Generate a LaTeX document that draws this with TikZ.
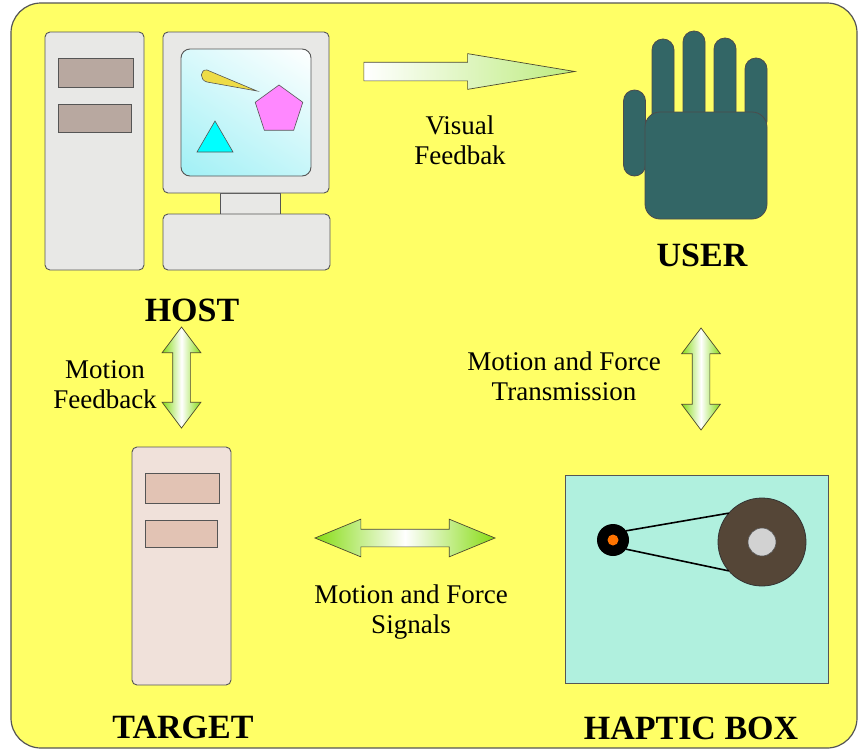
\documentclass[tikz,border=0pt]{standalone}
\usepackage{fontspec}
\setmainfont{Liberation Serif}
\usetikzlibrary{positioning, shapes.geometric, shapes.arrows, shadings}

\definecolor{panelyellow}{RGB}{255,255,102}
\definecolor{edgegray}{RGB}{85,85,85}
\definecolor{casegray}{RGB}{232,232,230}
\definecolor{baygray}{RGB}{184,168,160}
\definecolor{casepink}{RGB}{240,225,218}
\definecolor{baypink}{RGB}{226,195,180}
\definecolor{screencyan}{RGB}{160,240,245}
\definecolor{shapecyan}{RGB}{0,255,255}
\definecolor{pentapink}{RGB}{255,136,255}
\definecolor{pointeryellow}{RGB}{238,220,70}
\definecolor{handteal}{RGB}{51,102,102}
\definecolor{hapticmint}{RGB}{176,240,222}
\definecolor{pulleybrown}{RGB}{85,70,55}
\definecolor{hubgray}{RGB}{210,210,210}
\definecolor{arrowgreen}{RGB}{135,220,20}

\begin{document}
\begin{tikzpicture}[x=1pt, y=-1pt,
      casebox/.style={draw=edgegray, line width=0.9pt, rounded corners=5pt, inner sep=0pt, outer sep=0pt},
      bay/.style={draw=edgegray, line width=0.9pt, inner sep=0pt},
      finger/.style={draw=black!70, fill=handteal, line width=0.8pt, rounded corners=11pt, inner sep=0pt, minimum width=22pt},
      flow/.style={double arrow, draw=black!60!olive, line width=0.7pt, inner xsep=0pt, inner ysep=8.5pt,
        double arrow head extend=10.5pt, double arrow tip angle=74,
        left color=arrowgreen, right color=arrowgreen, middle color=white},
      title/.style={font=\fontsize{34}{40}\selectfont\bfseries},
      flowtext/.style={font=\fontsize{27}{30}\selectfont, align=center}
    ]
    \useasboundingbox (0,0) rectangle (859,750);
    \filldraw[fill=panelyellow, draw=edgegray, line width=1.2pt, rounded corners=30pt] (11,3) rectangle (857,748);

    % host computer
    \node[casebox, fill=casegray, minimum width=99pt, minimum height=238pt] (hosttower) at (94.5,151) {};
    \node[bay, fill=baygray, minimum width=75pt, minimum height=29pt] (hostbay1) at (95.5,72.5) {};
    \node[bay, fill=baygray, minimum width=73pt, minimum height=28pt] (hostbay2) at (94.5,118) {};
    \node[casebox, fill=casegray, minimum width=60pt, minimum height=22pt, rounded corners=0pt] (stand) at (250,204) {};
    \node[casebox, fill=casegray, minimum width=166pt, minimum height=161pt] (monitor) at (246,112.5) {};
    \node[casebox, rounded corners=9pt, minimum width=130pt, minimum height=127pt,
      upper left=screencyan!40, upper right=white, lower left=screencyan, lower right=screencyan!60] (screen) at (246,112.5) {};
    \node[casebox, fill=casegray, minimum width=167pt, minimum height=56pt] (keyboard) at (246.5,242) {};
    \filldraw[fill=pointeryellow, draw=edgegray, line width=0.6pt]
      (257,91) -- (207,70) .. controls (200,69) and (199,80) .. (207,82) -- cycle;
    \node[regular polygon, regular polygon sides=5, minimum size=50pt, inner sep=0pt,
      fill=pentapink, draw=edgegray, line width=0.6pt] (pentagon) at (279,110) {};
    \filldraw[fill=shapecyan, draw=edgegray, line width=0.6pt] (215,121) -- (233,152) -- (197,152) -- cycle;
    \node[title] (host) at (192,310) {HOST};

    % user hand
    \node[finger, minimum height=86pt] (thumb) at (634.5,133) {};
    \node[finger, minimum height=101pt] (index) at (663,89.5) {};
    \node[finger, minimum height=109pt] (middle) at (694,85.5) {};
    \node[finger, minimum height=102pt] (ring) at (725,89) {};
    \node[finger, minimum height=74pt] (pinky) at (756,95) {};
    \node[draw=black!70, fill=handteal, line width=0.8pt, rounded corners=15pt, inner sep=0pt,
      minimum width=122pt, minimum height=107pt] (palm) at (706,165.5) {};
    \node[title] (user) at (702,255) {USER};

    % target computer
    \node[casebox, fill=casepink, minimum width=99pt, minimum height=238pt] (targettower) at (181.5,566) {};
    \node[bay, fill=baypink, minimum width=74pt, minimum height=30pt] (targetbay1) at (182,488) {};
    \node[bay, fill=baypink, minimum width=72pt, minimum height=27pt] (targetbay2) at (181,533.5) {};
    \node[title] (target) at (183,727) {TARGET};

    % haptic box
    \node[draw=edgegray, line width=0.9pt, fill=hapticmint, inner sep=0pt,
      minimum width=263pt, minimum height=208pt] (haptic) at (696.5,579) {};
    \node[circle, fill=pulleybrown, draw=black!80, line width=0.8pt, inner sep=0pt, outer sep=0pt,
      minimum size=88pt] (bigpulley) at (762,542) {};
    \node[circle, fill=hubgray, draw=edgegray, line width=0.6pt, inner sep=0pt, minimum size=28pt] (hub) at (bigpulley) {};
    \node[circle, fill=black, inner sep=0pt, outer sep=0pt, minimum size=32pt] (smallpulley) at (613,540) {};
    \node[circle, fill=orange!90!red, inner sep=0pt, minimum size=11pt] (shaft) at (smallpulley) {};
    \draw[line width=1.6pt] (smallpulley.35) -- (bigpulley.139);
    \draw[line width=1.6pt] (smallpulley.-35) -- (bigpulley.-139);
    \node[title] (hapticlabel) at (691,728) {HAPTIC BOX};

    % data flow arrows
    \node[single arrow, draw=black!60!olive, line width=0.7pt, inner xsep=0pt, inner ysep=9pt,
      single arrow head extend=8.5pt, single arrow tip angle=18.9, minimum height=211pt,
      left color=white, right color=arrowgreen!55, anchor=tip] (visualflow) at (577,71.5) {};
    \node[flowtext] (visualtext) at (460,140) {Visual\\Feedbak};
    \node[flow, rotate=90, minimum height=101pt] (feedbackflow) at (181.5,377.5) {};
    \node[flowtext] (feedbacktext) at (105,385) {Motion\\Feedback};
    \node[flow, rotate=90, minimum height=102pt] (transmissionflow) at (701,379) {};
    \node[flowtext] (transmissiontext) at (564,376) {Motion and Force\\Transmission};
    \node[flow, minimum height=180pt, double arrow head extend=10pt, double arrow tip angle=44.7] (signalflow) at (405,538) {};
    \node[flowtext] (signaltext) at (411,612) {Motion and Force\\Signals};
  \end{tikzpicture}
\end{document}
